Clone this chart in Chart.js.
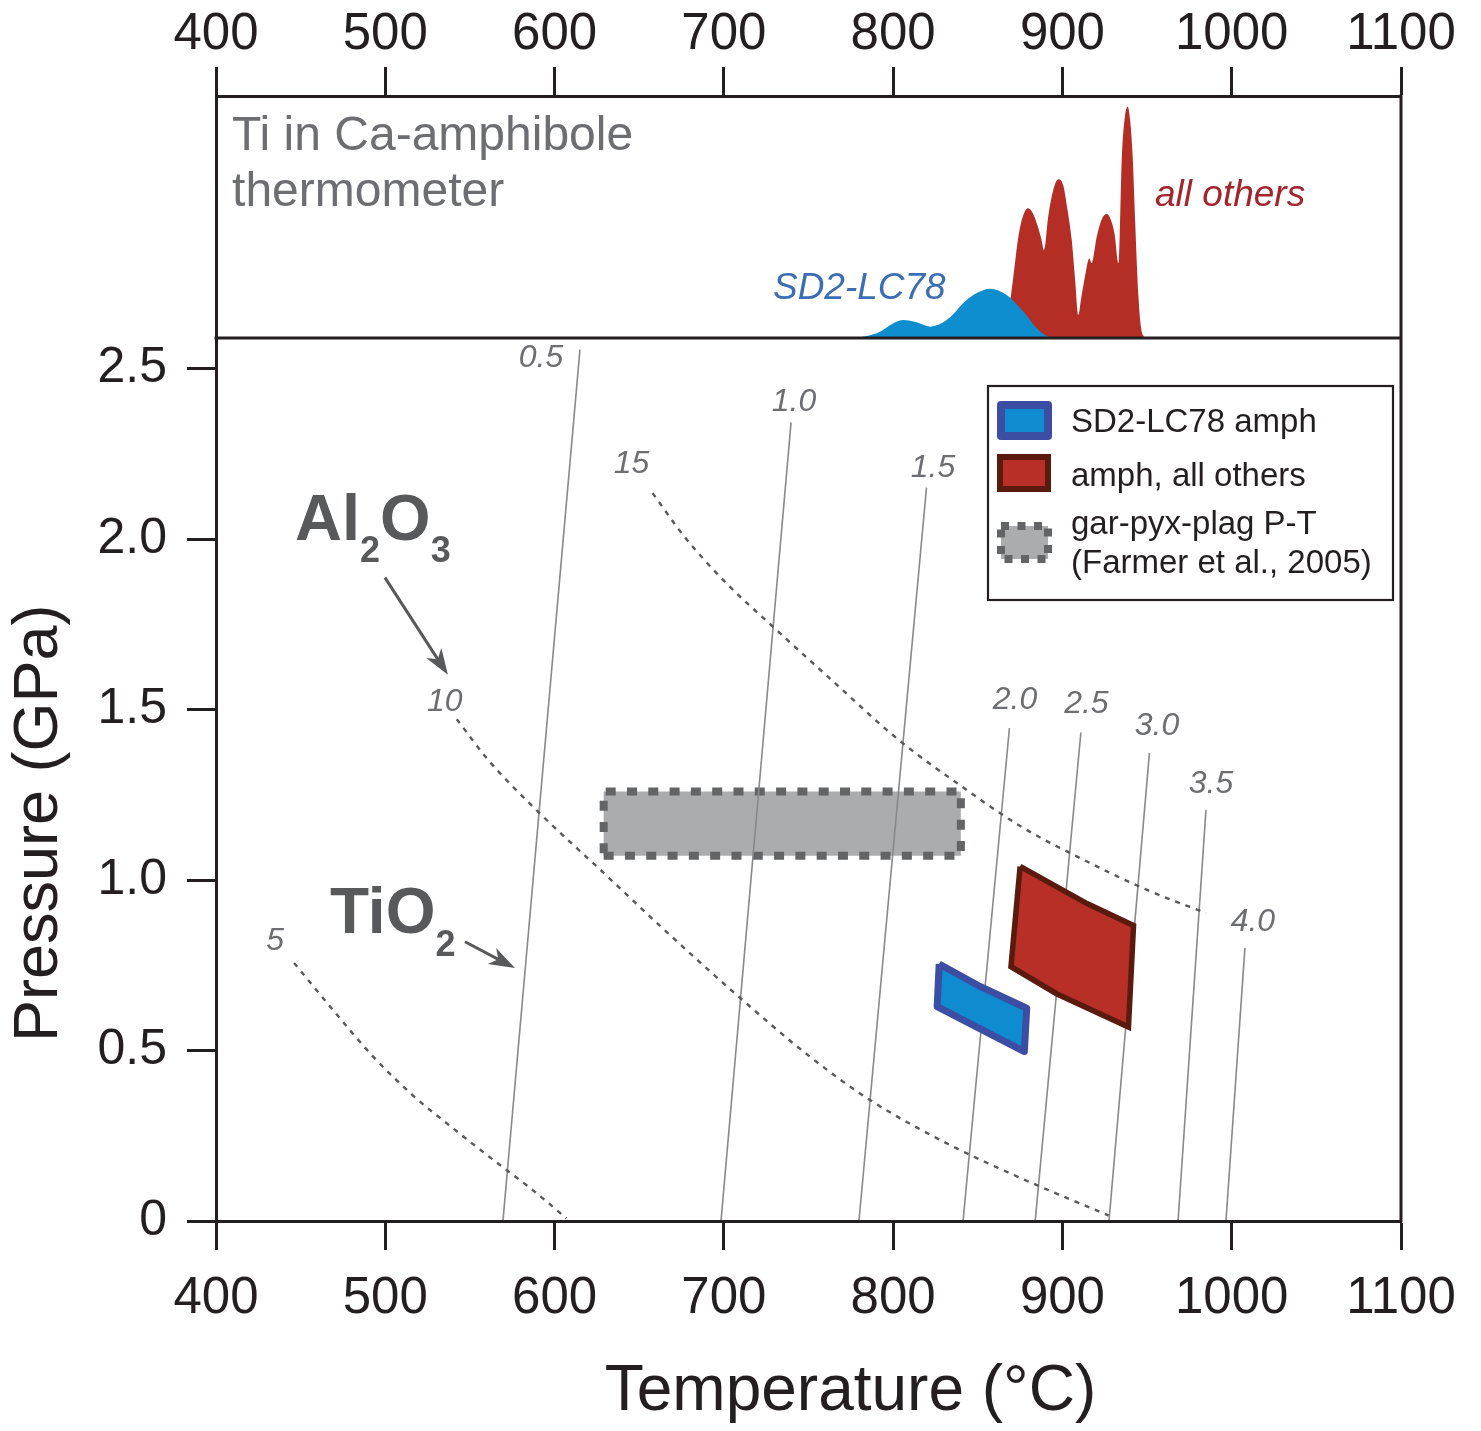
<!DOCTYPE html>
<html>
<head>
<meta charset="utf-8">
<script src="https://cdn.jsdelivr.net/npm/chart.js@4.4.1/dist/chart.umd.min.js"></script>
<style>
html,body{margin:0;padding:0;background:#ffffff;}
#wrap{width:1481px;height:1431px;position:relative;}
</style>
</head>
<body>
<div id="wrap"><canvas id="c" width="1481" height="1431"></canvas></div>
<script>
const FONT = "'Liberation Sans', Arial, Helvetica, sans-serif";

// ---- axis ranges / tick labels ----
const tempMin = 400, tempMax = 1100, tempStep = 100;
const presMin = 0, presMax = 2.59, presStep = 0.5;

// ---- top panel: Ti-in-Ca-amphibole thermometer densities ----
const densBlueT = [778, 784.4, 792.2, 800.1, 806.0, 813.9, 821.8, 831.6, 843.4, 850, 857.2, 867.1, 876.9, 884.8, 890.7, 895];
const densBlueH = [0, 0.008, 0.026, 0.061, 0.074, 0.065, 0.047, 0.074, 0.157, 0.188, 0.204, 0.178, 0.109, 0.040, 0.008, 0];
const densRedT = [862, 868, 871, 874, 877, 879.8, 882.5, 885, 887.5, 889.1, 891.6, 894.5, 897.6, 900.5, 903, 905.5, 907.5, 909.4, 911.2, 913.3, 915.9, 917.3, 920.3, 923.2, 926.2, 928.5, 930.8, 933.1, 935.1, 937, 938.6, 940, 941.5, 943, 944.9, 946.5, 948.5];
const densRedH = [0, 0.10, 0.253, 0.419, 0.51, 0.536, 0.515, 0.47, 0.41, 0.364, 0.501, 0.61, 0.656, 0.63, 0.53, 0.405, 0.24, 0.095, 0.17, 0.253, 0.329, 0.31, 0.419, 0.49, 0.512, 0.49, 0.43, 0.309, 0.749, 0.92, 0.956, 0.9, 0.75, 0.475, 0.171, 0.04, 0];

// ---- TiO2 isopleths (solid) ----
const tiLabels  = ['0.5', '1.0', '1.5', '2.0', '2.5', '3.0', '3.5', '4.0'];
const tiBottomT = [569.5, 698.3, 779.8, 841.3, 883.9, 927.5, 968.3, 996.6];
const tiTopT    = [615.0, 739.7, 819.7, 868.7, 910.9, 951.4, 984.8, 1007.8];
const tiTopP    = [2.556, 2.342, 2.151, 1.446, 1.433, 1.373, 1.206, 0.801];

// ---- Al2O3 isopleths (dotted) ----
const alLabels = ['5', '10', '15'];
const al5T  = [446.1, 469.1, 492.7, 516.4, 540.0, 563.6, 587.3, 607.0];
const al5P  = [0.757, 0.619, 0.483, 0.368, 0.272, 0.180, 0.090, 0.008];
const al10T = [542.2, 561.2, 591.0, 629.0, 664.2, 707.6, 751.1, 786.3, 832.4, 873.1, 927.3];
const al10P = [1.472, 1.350, 1.197, 1.021, 0.857, 0.663, 0.481, 0.355, 0.226, 0.131, 0.016];
const al15T = [657.9, 676.6, 701.4, 728.8, 763.6, 803.3, 840.7, 875.5, 912.7, 950.0, 984.9];
const al15P = [2.135, 2.008, 1.871, 1.744, 1.587, 1.411, 1.274, 1.157, 1.059, 0.971, 0.903];

// ---- P-T fields ----
const sdPolyT = [827.2, 851.3, 878.9, 877.5, 826.0];
const sdPolyP = [0.754, 0.688, 0.624, 0.497, 0.629];
const othPolyT = [875.0, 914.5, 942.0, 939.0, 896.8, 869.6];
const othPolyP = [1.040, 0.931, 0.867, 0.569, 0.666, 0.746];
const farmerT = [629, 840];
const farmerP = [1.071, 1.260];

// ---- legend ----
const legendLabels = [['SD2-LC78 amph'], ['amph, all others'], ['gar-pyx-plag P-T', '(Farmer et al., 2005)']];

// ---------- helpers ----------
const pts = (xs, ys) => xs.map((x, i) => ({x: x, y: ys[i]}));
const closed = (xs, ys) => { const p = pts(xs, ys); p.push({x: xs[0], y: ys[0]}); return p; };

const datasets = [];
// Farmer box (bottom-most)
datasets.push({
  label: 'gar-pyx-plag P-T (Farmer et al., 2005)',
  data: [
    {x: farmerT[0], y: farmerP[0]}, {x: farmerT[1], y: farmerP[0]},
    {x: farmerT[1], y: farmerP[1]}, {x: farmerT[0], y: farmerP[1]},
    {x: farmerT[0], y: farmerP[0]}
  ],
  showLine: true, fill: 'shape', backgroundColor: '#abacae',
  borderColor: '#636466', borderWidth: 8, borderDash: [10, 11.3], borderCapStyle: 'butt',
  borderJoinStyle: 'miter', pointRadius: 0, yAxisID: 'y', order: 60
});
// TiO2 isopleths
tiLabels.forEach((lab, i) => {
  datasets.push({
    label: 'TiO2 ' + lab,
    data: [{x: tiBottomT[i], y: 0}, {x: tiTopT[i], y: tiTopP[i]}],
    showLine: true, borderColor: '#88898b', borderWidth: 1.6, pointRadius: 0,
    fill: false, yAxisID: 'y', order: 50
  });
});
// Al2O3 isopleths
[[al5T, al5P], [al10T, al10P], [al15T, al15P]].forEach((c, i) => {
  datasets.push({
    label: 'Al2O3 ' + alLabels[i],
    data: pts(c[0], c[1]),
    showLine: true, borderColor: '#58595b', borderWidth: 2.4, borderDash: [5, 6],
    cubicInterpolationMode: 'monotone', pointRadius: 0, fill: false, yAxisID: 'y', order: 40
  });
});
// amph, all others
datasets.push({
  label: 'amph, all others',
  data: closed(othPolyT, othPolyP),
  showLine: true, fill: 'shape', backgroundColor: '#b72f26',
  borderColor: '#5a1b0e', borderWidth: 5.5, borderJoinStyle: 'miter',
  pointRadius: 0, yAxisID: 'y', order: 30
});
// SD2-LC78 amph
datasets.push({
  label: 'SD2-LC78 amph',
  data: closed(sdPolyT, sdPolyP),
  showLine: true, fill: 'shape', backgroundColor: '#0e8ccf',
  borderColor: '#3b4ea3', borderWidth: 7, borderJoinStyle: 'round',
  pointRadius: 0, yAxisID: 'y', order: 20
});
// densities (top panel)
datasets.push({
  label: 'all others (density)',
  data: pts(densRedT, densRedH),
  showLine: true, fill: 'origin', backgroundColor: '#b52e26', borderWidth: 0,
  borderColor: 'rgba(0,0,0,0)', cubicInterpolationMode: 'monotone',
  pointRadius: 0, yAxisID: 'yTop', order: 12
});
datasets.push({
  label: 'SD2-LC78 (density)',
  data: pts(densBlueT, densBlueH),
  showLine: true, fill: 'origin', backgroundColor: '#0f8ecf', borderWidth: 0,
  borderColor: 'rgba(0,0,0,0)', cubicInterpolationMode: 'monotone',
  pointRadius: 0, yAxisID: 'yTop', order: 10
});

// ---------- annotation plugin ----------
function arrow(ctx, x1, y1, x2, y2, head, half) {
  const ang = Math.atan2(y2 - y1, x2 - x1);
  const c = Math.cos(ang), s = Math.sin(ang);
  ctx.beginPath();
  ctx.moveTo(x1, y1);
  ctx.lineTo(x2 - c * head * 0.7, y2 - s * head * 0.7);
  ctx.stroke();
  ctx.beginPath();
  ctx.moveTo(x2, y2);
  ctx.lineTo(x2 - c * head + s * half, y2 - s * head - c * half);
  ctx.lineTo(x2 - c * head * 0.72, y2 - s * head * 0.72);
  ctx.lineTo(x2 - c * head - s * half, y2 - s * head + c * half);
  ctx.closePath();
  ctx.fill();
}
function chem(ctx, parts, x, y, big, small, dy) {
  let cx = x;
  parts.forEach(p => {
    const sub = p[1];
    ctx.font = `bold ${sub ? small : big}px ${FONT}`;
    ctx.fillText(p[0], cx, sub ? y + dy : y);
    cx += ctx.measureText(p[0]).width;
  });
}

const tiLabelOffset = [[-39, 9], [3, -20], [6.5, -20], [5.5, -28], [5.5, -28], [7.5, -27], [5, -26], [8, -26]];
const alStarts = [[al5T[0], al5P[0]], [al10T[0], al10P[0]], [al15T[0], al15P[0]]];
const alLabelOffset = [[-19, -22], [-12, -17], [-21, -29]];

const notes = {
  id: 'notes',
  afterDraw(chart) {
    const ctx = chart.ctx, a = chart.chartArea;
    const sx = chart.scales.x, sy = chart.scales.y, st = chart.scales.yTop;
    const X = v => sx.getPixelForValue(v), Y = v => sy.getPixelForValue(v), YT = v => st.getPixelForValue(v);
    ctx.save();
    // frame: right edge and panel separator
    ctx.strokeStyle = '#231f20';
    ctx.lineWidth = 3;
    ctx.beginPath();
    ctx.moveTo(a.right, a.top - 1.5); ctx.lineTo(a.right, a.bottom + 1.5);
    ctx.moveTo(a.left - 1.5, st.bottom); ctx.lineTo(a.right + 1.5, st.bottom);
    ctx.stroke();

    // isopleth labels
    ctx.fillStyle = '#6d6e71';
    ctx.font = `italic 32px ${FONT}`;
    ctx.textAlign = 'center';
    ctx.textBaseline = 'middle';
    tiLabels.forEach((lab, i) => {
      ctx.fillText(lab, X(tiTopT[i]) + tiLabelOffset[i][0], Y(tiTopP[i]) + tiLabelOffset[i][1]);
    });
    alLabels.forEach((lab, i) => {
      ctx.fillText(lab, X(alStarts[i][0]) + alLabelOffset[i][0], Y(alStarts[i][1]) + alLabelOffset[i][1]);
    });

    // oxide labels + arrows
    ctx.fillStyle = '#58595b';
    ctx.strokeStyle = '#58595b';
    ctx.textAlign = 'left';
    ctx.textBaseline = 'alphabetic';
    chem(ctx, [['Al', 0], ['2', 1], ['O', 0], ['3', 1]], X(446.7), Y(1.998), 65, 36, 22);
    chem(ctx, [['TiO', 0], ['2', 1]], X(467.3), Y(0.845), 64, 36, 23);
    ctx.lineWidth = 3;
    arrow(ctx, X(499.8), Y(1.887), X(537.0), Y(1.602), 26, 9);
    arrow(ctx, X(547.1), Y(0.819), X(576.6), Y(0.742), 26, 9);

    // top panel texts
    ctx.textBaseline = 'middle';
    ctx.fillStyle = '#6d6e71';
    ctx.font = `48px ${FONT}`;
    ctx.fillText('Ti in Ca-amphibole', X(409.5), YT(0.83));
    ctx.fillText('thermometer', X(409.5), YT(0.60));
    ctx.font = `italic 37px ${FONT}`;
    ctx.fillStyle = '#3a6db4';
    ctx.fillText('SD2-LC78', X(729.0), YT(0.202));
    ctx.fillStyle = '#a3242a';
    ctx.fillText('all others', X(954.7), YT(0.587));

    // legend
    const lx = a.right - 8 - 405, ly = sy.top + 48, lw = 405, lh = 214;
    ctx.fillStyle = '#ffffff';
    ctx.fillRect(lx, ly, lw, lh);
    ctx.strokeStyle = '#231f20';
    ctx.lineWidth = 2.2;
    ctx.strokeRect(lx, ly, lw, lh);
    // swatch 1
    ctx.lineJoin = 'round';
    ctx.fillStyle = '#0e8ccf'; ctx.strokeStyle = '#3b4ea3'; ctx.lineWidth = 8;
    ctx.fillRect(lx + 13, ly + 19, 47, 31);
    ctx.strokeRect(lx + 13, ly + 19, 47, 31);
    // swatch 2
    ctx.lineJoin = 'miter';
    ctx.fillStyle = '#b72f26'; ctx.strokeStyle = '#5a1b0e'; ctx.lineWidth = 6;
    ctx.fillRect(lx + 12, ly + 71, 48, 32);
    ctx.strokeRect(lx + 12, ly + 71, 48, 32);
    // swatch 3
    ctx.fillStyle = '#abacae';
    ctx.fillRect(lx + 13, ly + 140, 47, 33);
    ctx.strokeStyle = '#636466'; ctx.lineWidth = 8; ctx.setLineDash([8, 8.5]);
    ctx.strokeRect(lx + 13, ly + 140, 47, 33);
    ctx.setLineDash([]);
    // legend texts
    ctx.fillStyle = '#231f20';
    ctx.font = `33px ${FONT}`;
    ctx.textAlign = 'left';
    ctx.textBaseline = 'middle';
    const tx = lx + 83;
    ctx.fillText(legendLabels[0][0], tx, ly + 37);
    ctx.fillText(legendLabels[1][0], tx, ly + 91);
    ctx.fillText(legendLabels[2][0], tx, ly + 139);
    ctx.fillText(legendLabels[2][1], tx, ly + 178);
    ctx.restore();
  }
};

// ---------- scales ----------
const axisColor = '#231f20';
const tickFont = {family: FONT, size: 51};
const NB = '\u00A0';

const chart = new Chart(document.getElementById('c'), {
  type: 'scatter',
  data: {datasets: datasets},
  options: {
    responsive: false,
    animation: false,
    devicePixelRatio: 1,
    layout: {padding: {left: 0, right: 80, top: 0, bottom: 0}},
    plugins: {legend: {display: false}, tooltip: {enabled: false}, title: {display: false}},
    scales: {
      x: {
        type: 'linear', position: 'bottom', min: tempMin, max: tempMax,
        ticks: {stepSize: tempStep, color: axisColor, font: tickFont, padding: 18, maxRotation: 0, autoSkip: false,
                callback: v => String(v)},
        grid: {drawOnChartArea: false, drawTicks: true, tickLength: 29, tickWidth: 3, tickColor: axisColor},
        border: {display: true, width: 3, color: axisColor, z: 1},
        title: {display: true, text: NB.repeat(4) + '\u2009Temperature (°C)', color: axisColor,
                font: {family: FONT, size: 64}, padding: {top: 0, bottom: 0}},
        afterFit: s => { s.height = 210; }
      },
      x2: {
        type: 'linear', position: 'top', min: tempMin, max: tempMax,
        ticks: {stepSize: tempStep, color: axisColor, font: tickFont, padding: 1, maxRotation: 0, autoSkip: false,
                callback: v => String(v)},
        grid: {drawOnChartArea: false, drawTicks: true, tickLength: 29, tickWidth: 3, tickColor: axisColor},
        border: {display: true, width: 3, color: axisColor, z: 1},
        afterFit: s => { s.height = 96; }
      },
      y: {
        type: 'linear', position: 'left', stack: 'pt', stackWeight: 883, weight: 0,
        min: presMin, max: presMax,
        ticks: {stepSize: presStep, includeBounds: false, color: axisColor, font: {family: FONT, size: 50}, padding: 20,
                callback: v => (v === 0 ? '0' : Number(v).toFixed(1))},
        grid: {drawOnChartArea: false, drawTicks: true, tickLength: 29, tickWidth: 3, tickColor: axisColor},
        border: {display: true, width: 3, color: axisColor, z: 1},
        title: {display: true, text: 'Pressure (GPa)' + NB.repeat(5), color: axisColor,
                font: {family: FONT, size: 63, lineHeight: 1.15}, padding: {top: 3, bottom: 0}},
        afterFit: s => { s.width = 216; }
      },
      yTop: {
        type: 'linear', position: 'left', stack: 'pt', stackWeight: 242, weight: 1,
        min: 0, max: 1,
        ticks: {display: false},
        grid: {drawOnChartArea: false, drawTicks: false},
        border: {display: true, width: 3, color: axisColor, z: 1},
        afterFit: s => { s.width = 216; }
      }
    }
  },
  plugins: [notes]
});
</script>
</body>
</html>
